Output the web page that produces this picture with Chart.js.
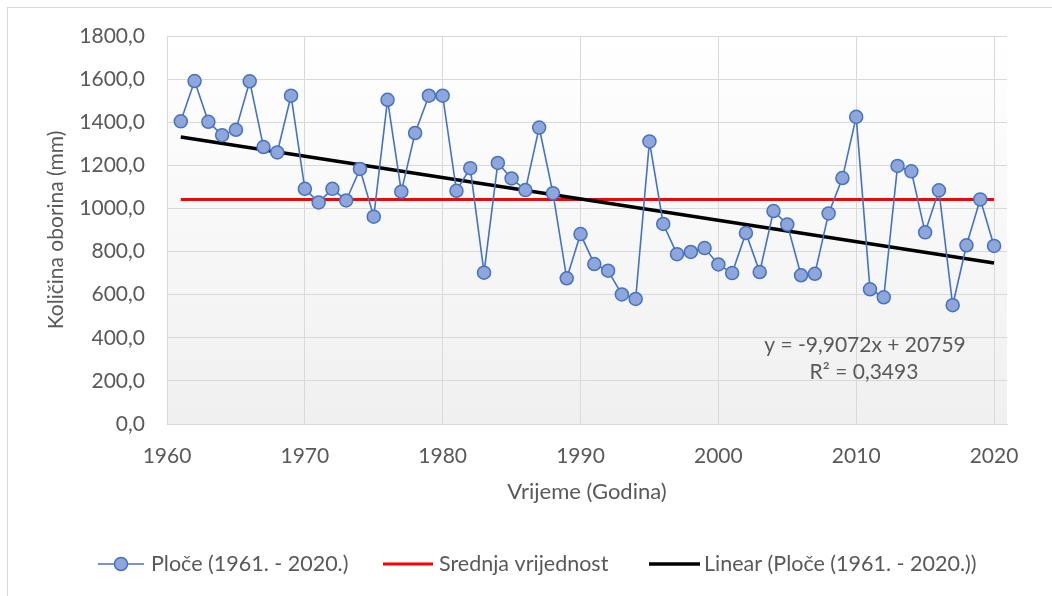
<!DOCTYPE html>
<html>
<head>
<meta charset="utf-8">
<script src="https://cdn.jsdelivr.net/npm/chart.js@4/dist/chart.umd.min.js"></script>
<style>
  html, body { margin: 0; padding: 0; background: #fff; }
  #wrap { position: relative; width: 1052px; height: 596px; overflow: hidden; }
  #frame { position: absolute; left: 7px; top: 7px; width: 1100px; height: 700px;
           border-left: 1px solid #d9d9d9; border-top: 1px solid #d9d9d9; }
  #chart { position: absolute; left: 0; top: 0; }
</style>
</head>
<body>
<div id="wrap">
  <div id="frame"></div>
  <canvas id="chart" width="1052" height="596"></canvas>
</div>
<script>
const years = [];
for (let y = 1961; y <= 2020; y++) years.push(y);

// yearly precipitation (mm)
const rainfall = [
  1404, 1591, 1402, 1340, 1365, 1590, 1285, 1260, 1523, 1091,
  1028, 1091, 1037, 1183, 962, 1504, 1078, 1350, 1523, 1523,
  1082, 1187, 702, 1211, 1139, 1085, 1375, 1071, 676, 881,
  742, 711, 601, 580, 1311, 928, 788, 798, 816, 740,
  700, 886, 705, 988, 926, 690, 697, 977, 1141, 1425,
  625, 588, 1197, 1172, 889, 1084, 551, 829, 1042, 826
];

const meanValue = 1041;
const trendSlope = -9.9072;
const trendIntercept = 20759;
const trendLabel = ["y = -9,9072x + 20759", "R² = 0,3493"];

const seriesLabels = ["Ploče (1961. - 2020.)", "Srednja vrijednost", "Linear (Ploče (1961. - 2020.))"];

const FONT = "Lato, 'Open Sans', sans-serif";
const TEXT = "#595959";
const BLUE = "#4472C4";

const firstYear = years[0];
const lastYear = years[years.length - 1];

const seriesPoints = years.map((y, i) => ({ x: y, y: rainfall[i] }));
const meanPoints = [{ x: firstYear, y: meanValue }, { x: lastYear, y: meanValue }];
const trendPoints = [firstYear, lastYear].map((y) => ({ x: y, y: trendSlope * y + trendIntercept }));

// plot area background (white to light grey)
const plotBackground = {
  id: "plotBackground",
  beforeDraw(chart) {
    const { ctx, chartArea: a } = chart;
    const g = ctx.createLinearGradient(0, a.top, 0, a.bottom);
    g.addColorStop(0, "#ffffff");
    g.addColorStop(1, "#f0f0f0");
    ctx.save();
    ctx.fillStyle = g;
    ctx.fillRect(a.left, a.top, a.right - a.left, a.bottom - a.top);
    ctx.restore();
  },
};

// trendline equation text
const equationText = {
  id: "equationText",
  afterDraw(chart) {
    const { ctx } = chart;
    ctx.save();
    ctx.font = "21px " + FONT;
    ctx.fillStyle = TEXT;
    ctx.textAlign = "center";
    ctx.textBaseline = "middle";
    ctx.fillText(trendLabel[0], 865, 345);
    ctx.fillText(trendLabel[1], 864, 372);
    ctx.restore();
  },
};

// legend like the Excel one
const bottomLegend = {
  id: "bottomLegend",
  afterDraw(chart) {
    const { ctx } = chart;
    const y = 564;
    ctx.save();
    ctx.font = "21.5px " + FONT;
    ctx.fillStyle = TEXT;
    ctx.textBaseline = "middle";
    ctx.textAlign = "left";

    ctx.strokeStyle = BLUE;
    ctx.lineWidth = 1.5;
    ctx.beginPath();
    ctx.moveTo(98, y);
    ctx.lineTo(144, y);
    ctx.stroke();
    ctx.beginPath();
    ctx.arc(121, y, 6.5, 0, Math.PI * 2);
    ctx.fillStyle = "#8fa6da";
    ctx.fill();
    ctx.stroke();
    ctx.fillStyle = TEXT;
    ctx.fillText(seriesLabels[0], 151, y);

    ctx.strokeStyle = "#ff0000";
    ctx.lineWidth = 3;
    ctx.beginPath();
    ctx.moveTo(383, y);
    ctx.lineTo(433, y);
    ctx.stroke();
    ctx.fillText(seriesLabels[1], 439, y);

    ctx.strokeStyle = "#000000";
    ctx.lineWidth = 3.5;
    ctx.beginPath();
    ctx.moveTo(649, y);
    ctx.lineTo(700, y);
    ctx.stroke();
    ctx.fillText(seriesLabels[2], 704, y);
    ctx.restore();
  },
};

new Chart(document.getElementById("chart"), {
  type: "scatter",
  data: {
    datasets: [
      {
        label: seriesLabels[0],
        data: seriesPoints,
        showLine: true,
        borderColor: BLUE,
        borderWidth: 1.6,
        pointRadius: 6.5,
        pointBackgroundColor: "#8fa6da",
        pointBorderColor: BLUE,
        pointBorderWidth: 1.5,
        order: 0,
      },
      {
        label: seriesLabels[1],
        data: meanPoints,
        showLine: true,
        borderColor: "#ff0000",
        borderWidth: 3,
        pointRadius: 0,
        order: 2,
      },
      {
        label: seriesLabels[2],
        data: trendPoints,
        showLine: true,
        borderColor: "#000000",
        borderWidth: 3.5,
        pointRadius: 0,
        order: 1,
      },
    ],
  },
  options: {
    responsive: false,
    animation: false,
    devicePixelRatio: 1,
    layout: { padding: { left: 40, top: 36, right: 45, bottom: 87 } },
    plugins: {
      legend: { display: false },
      tooltip: { enabled: false },
    },
    scales: {
      x: {
        type: "linear",
        min: 1960,
        max: 2020.94,
        grid: { color: "#d9d9d9", drawTicks: false },
        border: { color: "#d9d9d9" },
        ticks: {
          stepSize: 10,
          includeBounds: false,
          padding: 20,
          color: TEXT,
          font: { family: FONT, size: 21 },
          callback: (v) => String(v),
        },
        title: {
          display: true,
          text: "Vrijeme (Godina)",
          color: TEXT,
          font: { family: FONT, size: 22 },
        },
        afterFit: (s) => { s.height = 85; },
      },
      y: {
        min: 0,
        max: 1800,
        grid: { color: "#d9d9d9", drawTicks: false },
        border: { color: "#d9d9d9" },
        ticks: {
          stepSize: 200,
          padding: 22,
          color: TEXT,
          font: { family: FONT, size: 21 },
          callback: (v) => v.toFixed(1).replace(".", ","),
        },
        title: {
          display: true,
          text: "Količina oborina (mm)",
          color: TEXT,
          font: { family: FONT, size: 21 },
        },
        afterFit: (s) => { s.width = 127; },
      },
    },
  },
  plugins: [plotBackground, equationText, bottomLegend],
});
</script>
</body>
</html>
